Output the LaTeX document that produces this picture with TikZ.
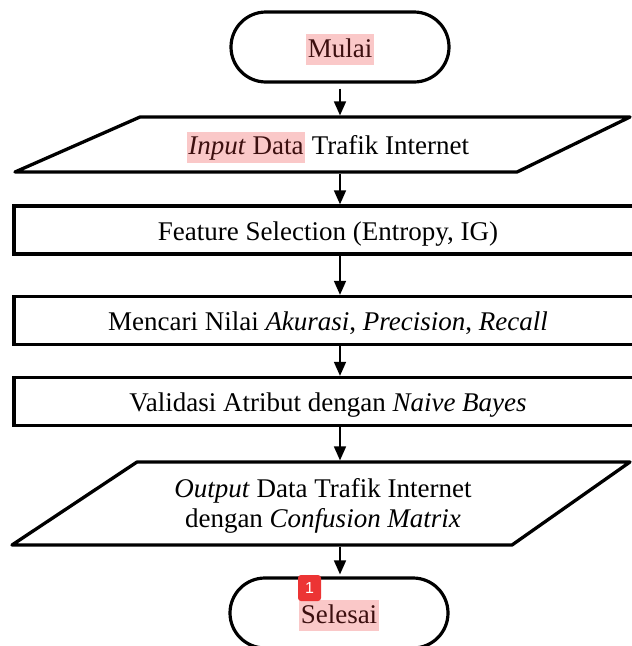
\documentclass[tikz,border=0pt]{standalone}
\usepackage{fontspec}
\setmainfont{Liberation Serif}
\newfontfamily\badgefont{Liberation Sans}
\usetikzlibrary{shapes.misc,arrows.meta}
\definecolor{hlpink}{RGB}{250,200,200}
\definecolor{hltext}{RGB}{60,15,15}
\definecolor{badgered}{RGB}{236,52,52}
% pink marker behind a word or phrase
\newcommand\hlmark[1]{{\setlength{\fboxsep}{0pt}\colorbox{hlpink}{\kern1.5pt\rule[-8pt]{0pt}{31pt}\color{hltext}#1\kern1.5pt}}}

\begin{document}
\begin{tikzpicture}[x=1pt,y=-1pt,
  every node/.style={font=\fontsize{27}{30}\selectfont},
  label text/.style={text height=22pt, text depth=2pt},
  term/.style={draw, rounded rectangle, line width=3.2pt, minimum width=218pt, minimum height=70pt, inner sep=0pt, label text},
  proc/.style={draw, rectangle, line width=3.3pt, minimum width=628pt, minimum height=48pt, inner sep=0pt, label text},
  io/.style={draw, line width=3.3pt, line join=round},
  badge/.style={fill=badgered, rounded corners=3pt, minimum width=23pt, minimum height=26pt, inner sep=0pt, text=white, font=\badgefont\fontsize{16}{16}\selectfont},
  flow/.style={-{Triangle[length=14pt,width=12pt]}, line width=1.6pt}]
\useasboundingbox (0,0) rectangle (632,646);

% start
\node[term] (start) at (340,47) {\hlmark{Mulai}};

% input parallelogram
\draw[io] (15,172) -- (517,172) -- (630,117) -- (140,117) -- cycle;
\coordinate (inTop) at (328,117);
\coordinate (inBot) at (328,172);
\node[label text, inner sep=0pt] (input) at (328,144.5) {\hlmark{\textit{Input} Data} Trafik Internet};

% processing steps
\node[proc] (fs) at (328,230) {Feature Selection (Entropy, IG)};
\node[proc] (metric) at (328,320.5) {Mencari Nilai \textit{Akurasi}, \textit{Precision}, \textit{Recall}};
\node[proc] (nb) at (328,401.5) {Validasi Atribut dengan \textit{Naive Bayes}};

% output parallelogram
\draw[io] (12,545) -- (512,545) -- (630,462) -- (137,462) -- cycle;
\coordinate (outTop) at (324,462);
\coordinate (outBot) at (324,545);
\node[align=center, inner sep=0pt] (output) at (323,506)
      {\textit{Output} Data Trafik Internet\\dengan \textit{Confusion Matrix}};

% end
\node[term] (end) at (339,613) {\hlmark{Selesai}};
\node[badge] (mark) at (309.5,588) {1};

% connectors
\draw[flow, shorten <=5pt, shorten >=1.6pt] (start.south) -- (start.south |- inTop);
\draw[flow, shorten <=1.6pt] (start.south |- inBot) -- (start.south |- fs.north);
\draw[flow] (start.south |- fs.south) -- (start.south |- metric.north);
\draw[flow] (start.south |- metric.south) -- (start.south |- nb.north);
\draw[flow, shorten >=1.6pt] (start.south |- nb.south) -- (start.south |- outTop);
\draw[flow, shorten <=1.6pt, shorten >=2pt] (start.south |- outBot) -- (start.south |- end.north);
\end{tikzpicture}
\end{document}
